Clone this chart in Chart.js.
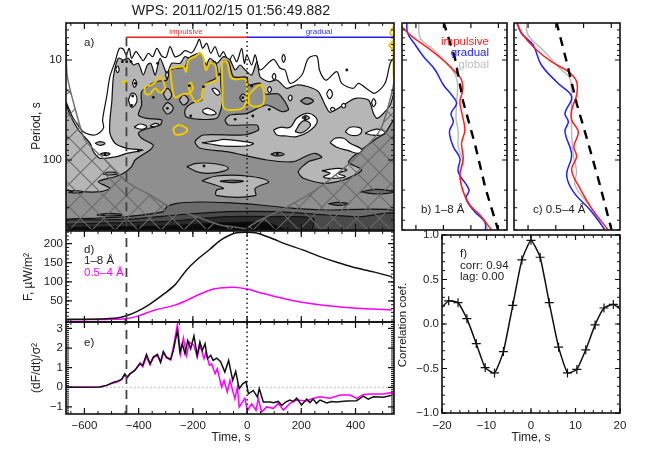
<!DOCTYPE html>
<html>
<head>
<meta charset="utf-8">
<title>WPS 2011/02/15</title>
<script src="https://cdn.jsdelivr.net/npm/chart.js@4"></script>
<style>
  html, body { margin: 0; padding: 0; background: #fff; }
  #wrap { position: relative; width: 658px; height: 461px; overflow: hidden; }
  #wrap canvas { position: absolute; left: 0; top: 0; }
</style>
</head>
<body>
<div id="wrap"></div>
<script>
// tick labels
var timeTicks = [-600, -400, -200, 0, 200, 400];
var periodTicks = [10, 100];
var fluxTicks = [50, 100, 150, 200];
var derivTicks = [-1, 0, 1, 2, 3];
var lagTicks = [-20, -10, 0, 10, 20];
var corrTicks = [-1, -0.5, 0, 0.5, 1];
var powerTicks = [-2, -1, 0, 1];
var periodMinor = [5, 6, 7, 8, 9, 20, 30, 40, 50, 60, 70, 80, 90, 200, 300, 400, 500];

// event times, s
var flareStart = -445;
var flarePeak = 0;

// wavelet contours: [time s, log10 period]
var contourOuter = [[-668,1.417],[-641,1.583],[-604,1.717],[-561,1.75],[-530,1.683],[-533,1.6],[-518,1.367],[-506,1.167],[-487,1.017],[-471,.883],[-456,.893],[-446,.95],[-435,.883],[-426,.983],[-410,.917],[-395,.967],[-383,1.007],[-364,.933],[-348,.967],[-333,.883],[-315,.96],[-299,.973],[-284,.867],[-266,.967],[-247,.95],[-229,.907],[-204,.927],[-186,.85],[-176,.793],[-164,.883],[-149,.833],[-134,.933],[-118,.867],[-102,.967],[-87,.917],[-69,1.017],[-53,.95],[-38,1.017],[-20,.883],[-10,1.033],[-1,.95],[17,1.05],[30,.95],[48,1.1],[97,.993],[122,1.083],[140,1.1],[159,1.233],[202,1.15],[226,.983],[257,.96],[267,1.1],[282,1.183],[294,1.2],[331,1.117],[349,1.233],[392,1.283],[411,1.233],[448,1.3],[472,1.333],[509,1.233],[528,1.033],[544,.967]];
var contourLight = [[-668,1.433],[-653,1.55],[-622,1.7],[-579,1.833],[-567,1.917],[-542,1.983],[-481,1.967],[-444,1.933],[-383,1.9],[-444,1.883],[-487,1.833],[-506,1.733],[-506,1.6],[-499,1.417],[-493,1.167],[-475,.983],[-456,1],[-438,.983],[-419,1.05],[-401,1.033],[-383,1.15],[-368,1.05],[-355,1.033],[-339,1.15],[-321,.983],[-296,1.133],[-278,1.033],[-247,1.033],[-229,.967],[-198,1],[-176,.933],[-155,1.067],[-137,.983],[-112,1.033],[-87,.967],[-63,1],[-44,1.1],[-26,1.05],[-7,1.1],[17,1.15],[36,1.017],[48,1.167],[79,1.217],[110,1.2],[146,1.283],[183,1.25],[226,1.267],[263,1.317],[288,1.45],[306,1.523],[356,1.45],[399,1.383],[448,1.4],[466,1.533],[479,1.583],[497,1.55],[528,1.45],[544,1.317],[544,2.75],[-668,2.75]];
var contourMid = [[-668,2.3],[-616,2.317],[-542,2.317],[-506,2.283],[-549,2.217],[-487,2.167],[-456,2.133],[-426,2.067],[-413,2],[-358,1.9],[-346,1.85],[-389,1.783],[-401,1.733],[-383,1.7],[-321,1.65],[-315,1.6],[-370,1.583],[-401,1.55],[-389,1.45],[-389,1.317],[-339,1.217],[-296,1.2],[-284,1.1],[-229,1.067],[-216,.983],[-173,.933],[-149,1.05],[-118,1.017],[-109,1.167],[-149,1.233],[-167,1.317],[-167,1.4],[-204,1.433],[-229,1.5],[-225,1.567],[-173,1.593],[-112,1.583],[-97,1.5],[-91,1.4],[-97,1.233],[-91,1.017],[-69,1.017],[-50,1.167],[-1,1.173],[5,1.25],[48,1.233],[66,1.34],[116,1.34],[153,1.493],[128,1.517],[73,1.45],[-1,1.533],[-63,1.55],[-81,1.6],[-69,1.65],[36,1.65],[42,1.7],[-13,1.75],[-161,1.75],[-192,1.817],[-173,1.883],[-75,1.917],[73,2],[171,2.017],[226,1.95],[251,1.933],[276,1.973],[226,2.017],[189,2.117],[208,2.183],[282,2.233],[356,2.2],[423,2.1],[374,2.017],[479,1.783],[509,1.733],[544,1.6],[544,2.75],[-668,2.75]];
var contourDark1 = [[-668,2.59],[-567,2.583],[-444,2.567],[-309,2.517],[-296,2.467],[-259,2.433],[-173,2.42],[-75,2.427],[48,2.45],[171,2.483],[294,2.5],[544,2.507],[544,2.75],[-668,2.75]];
var contourDark2 = [[-668,2.6],[-444,2.593],[-259,2.55],[-75,2.517],[110,2.517],[294,2.55],[417,2.567],[544,2.533],[544,2.75],[-668,2.75]];
var contourDark3 = [[-668,2.64],[-321,2.617],[-75,2.567],[110,2.567],[245,2.583],[226,2.75],[-668,2.75]];
var contourDark4 = [[-668,2.673],[-321,2.66],[-75,2.627],[73,2.627],[171,2.75],[-668,2.75]];

var lightIslands = [
  [[-309,1.34],[-294,1.283],[-278,1.35],[-294,1.4]],
  [[-250,1.4],[-235,1.35],[-216,1.4],[-235,1.45]],
  [[-312,1.483],[-294,1.427],[-272,1.483],[-294,1.54]],
  [[-223,2.067],[-186,2.033],[-112,2.04],[-69,2.083],[-112,2.127],[-173,2.127]],
  [[-167,2.207],[-112,2.16],[-1,2.16],[79,2.217],[30,2.283],[30,2.357],[-112,2.357],[-112,2.3],[-87,2.283]],
  [[-28,1.377],[-16,1.34],[-1,1.377],[-16,1.417]]
];
var midIslands = [
  [[87,1.943],[112,1.923],[137,1.943],[112,1.96]],
  [[196,1.41],[220,1.377],[245,1.41],[220,1.443]],
  [[-533,2.14],[-506,2.12],[-475,2.133],[-506,2.15]],
  [[-659,2.323],[-635,2.307],[-604,2.317],[-635,2.33]]
];
var darkIslands = [
  [[-100,2.213],[-57,2.2],[-13,2.213],[-57,2.227]],
  [[417,2.32],[479,2.293],[540,2.32],[479,2.34]],
  [[300,2.437],[337,2.423],[374,2.44],[337,2.453]],
  [[-555,2.55],[-506,2.533],[-462,2.55],[-506,2.56]]
];
var whiteIslands = [
  [[-167,1.827],[-112,1.807],[-87,1.793],[-38,1.807],[23,1.833],[-1,1.86],[-87,1.86],[-137,1.84]],
  [[97,1.7],[122,1.673],[159,1.673],[183,1.583],[220,1.533],[251,1.567],[257,1.633],[226,1.717],[183,1.767],[146,1.76],[110,1.75]],
  [[362,1.717],[380,1.673],[411,1.673],[423,1.7],[411,1.75],[380,1.75]],
  [[435,1.733],[472,1.693],[509,1.717],[497,1.75],[460,1.75]],
  [[306,1.827],[325,1.783],[356,1.783],[380,1.833],[423,1.893],[411,1.933],[374,1.907],[331,1.873]],
  [[276,2.107],[331,2.083],[368,2.1],[337,2.133],[362,2.167],[312,2.183],[282,2.167],[306,2.133]],
  [[-417,1.673],[-395,1.64],[-370,1.667],[-389,1.693]],
  [[-358,1.66],[-339,1.633],[-325,1.65],[-346,1.667]],
  [[-164,1.5],[-143,1.483],[-114,1.533],[-137,1.55],[-161,1.527]],
  [[-130,1.29],[-118,1.283],[-100,1.333],[-112,1.35]],
  [[-438,1.4],[-426,1.333],[-410,1.35],[-407,1.417],[-426,1.473]],
  [[-423,1.233],[-416,1.193],[-407,1.233],[-416,1.273]],
  [[-485,1.093],[-478,1.06],[-472,1.093],[-478,1.127]],
  [[-301,1.15],[-296,1.117],[-290,1.15],[-296,1.183]],
  [[128,.983],[134,.943],[141,.983],[134,1.023]],
  [[92,1.167],[100,1.133],[106,1.167],[100,1.2]],
  [[75,1.293],[82,1.267],[90,1.293],[82,1.327]],
  [[151,1.377],[159,1.35],[166,1.377],[159,1.41]],
  [[293,1.34],[304,1.293],[315,1.34],[304,1.387]],
  [[459,1.427],[466,1.387],[475,1.427],[466,1.467]],
  [[306,1.493],[315,1.473],[324,1.493],[315,1.513]],
  [[347,1.457],[356,1.433],[364,1.457],[356,1.48]]
];
var innerIslands = [
  [[177,1.717],[202,1.617],[226,1.617],[233,1.66],[202,1.727]],
  [[202,1.577],[217,1.557],[230,1.577],[217,1.597]],
  [[-561,1.833],[-542,1.817],[-524,1.833],[-542,1.853]],
  [[-542,1.94],[-524,1.927],[-506,1.94],[-524,1.957]]
];
var contourDots = [[-346,1.373],[-294,1.483],[-208,1.56],[-213,1.257],[-161,1.267],[-102,1.143],[17,1.26],[-16,1.377],[82,1.493],[21,1.56],[-44,1.593],[112,1.943],[-159,2.06],[-524,1.94],[-401,1.91],[368,1.1],[-460,1.017],[-444,1.017],[-428,1.017],[-330,1.033],[-422,1.36],[-426,1.453],[-413,1.233],[214,1.577]];

// significance contours (yellow)
var signifLoops = [
  [[-380,1.3],[-373,1.26],[-352,1.25],[-333,1.2],[-321,1.167],[-306,1.233],[-303,1.283],[-321,1.327],[-339,1.283],[-358,1.34],[-373,1.34]],
  [[-284,1.083],[-235,1.067],[-225,1.117],[-216,1],[-192,.967],[-173,.933],[-161,.983],[-152,1.1],[-137,1.033],[-118,1.05],[-112,1.15],[-112,1.2],[-155,1.25],[-167,1.333],[-167,1.383],[-192,1.417],[-210,1.34],[-235,1.34],[-266,1.373],[-278,1.233]],
  [[-93,1.017],[-75,1.017],[-57,1.183],[-7,1.193],[-1,1.3],[-13,1.473],[-63,1.5],[-87,1.473],[-91,1.267]],
  [[5,1.35],[36,1.267],[52,1.25],[63,1.4],[48,1.46],[11,1.45]],
  [[-272,1.683],[-253,1.65],[-223,1.683],[-223,1.717],[-253,1.75],[-268,1.733]],
  [[-216,1.25],[-208,1.227],[-200,1.283],[-210,1.323]]
];
var signifEdge = [[540,.667],[528,.733],[546,.783],[525,.85],[540,.89],[552,.85],[540,.817],[540,.95],[541,1.15],[546,1.333]];
var signifDot = [[-453,1.223]];

// cone of influence
var coiLeft = [[-668,.8],[-664,1.15],[-635,1.48],[-598,1.8],[-531,1.98],[-443,2.22],[-358,2.35],[-284,2.47],[-173,2.58],[-100,2.65],[-7,2.69],[-7,2.75],[-668,2.75]];
var coiRight = [[-7,2.69],[48,2.6],[148,2.47],[269,2.27],[391,2],[491,1.7],[539,1.27],[544,1.1],[544,2.75],[-7,2.75]];

// power spectra: [log10 power, log10 period]
var specRed18 = [[-2.51,.667],[-2.14,.767],[-1.54,.883],[-.94,1.017],[-.52,1.133],[-.34,1.2],[-.3,1.3],[-.4,1.417],[-.34,1.517],[-.22,1.7],[-.34,1.833],[-.28,1.983],[-.4,2.15],[-.28,2.317],[-.04,2.45],[.33,2.55],[.75,2.7]];
var specBlue18 = [[-2.33,.617],[-2.3,.733],[-2.02,.85],[-1.72,.967],[-1.3,1.1],[-1,1.25],[-.7,1.35],[-.52,1.433],[-.72,1.533],[-.64,1.617],[-.78,1.717],[-.64,1.867],[-.4,1.983],[-.46,2.117],[-.07,2.3],[-.18,2.383],[.14,2.517],[.51,2.617],[.53,2.7]];
var specGrey18 = [[-1.9,.633],[-1.84,.783],[-1.42,.883],[-.94,1.017],[-.52,1.183],[-.52,1.433],[-.54,1.583],[-.46,1.717],[-.46,1.867],[-.28,2.017],[-.4,2.15],[-.28,2.317],[.02,2.483],[.39,2.583],[.63,2.7]];
var specNoise18 = [[-1,.617],[-.58,.983],[-.28,1.417],[.14,1.833],[.53,2.283],[.99,2.7]];
var specRed054 = [[-2.4,.633],[-2.18,.75],[-1.76,.883],[-1.16,1.017],[-.55,1.117],[-.25,1.217],[-.25,1.35],[-.43,1.5],[-.43,1.6],[-.19,1.717],[-.35,1.867],[-.25,1.967],[-.43,2.1],[-.13,2.283],[.29,2.483],[.89,2.7]];
var specBlue054 = [[-2.42,.617],[-2.24,.733],[-1.82,.85],[-1.52,1.05],[-.92,1.233],[-.43,1.367],[-.67,1.533],[-.55,1.617],[-.67,1.717],[-.43,1.95],[-.61,2.15],[-.37,2.317],[.29,2.517],[.77,2.7]];
var specGrey054 = [[-2.06,.617],[-2,.75],[-1.4,.917],[-.8,1.1],[-.49,1.183],[-.43,1.45],[-.43,1.717],[-.37,1.95],[-.25,2.117],[-.31,2.25],[.29,2.483],[.77,2.7]];
var specNoise054 = [[-.98,.617],[-.61,1.017],[-.25,1.433],[.17,1.833],[.59,2.25],[1.01,2.7]];

// light curves: [time s, flux]
var flux18 = [[-668,2],[-592,2],[-518,3.5],[-481,5],[-448,10.5],[-407,22],[-364,39],[-309,67],[-266,92],[-223,131],[-186,157],[-136,186],[-100,208],[-63,222.5],[-38,228.6],[-1,230],[35,228],[85,215.5],[146,198],[208,183],[269,166],[331,151],[392,138],[466,126],[534,113.5]];
var flux054 = [[-668,1],[-592,1],[-518,1.5],[-448,3.5],[-407,9.6],[-346,25],[-266,39],[-223,51.5],[-173,68],[-124,81],[-87,84.6],[-50,85.5],[-1,81],[48,71.6],[110,60],[171,50.6],[245,42],[318,35.8],[392,31.4],[466,28.8],[534,26]];

// normalised derivative: [time s, value]
var deriv18 = [[-668,0],[-543,.02],[-518,.1],[-494,.25],[-475,.33],[-463,.4],[-451,.69],[-442,.52],[-432,.69],[-414,.86],[-395,1.2],[-385,1.12],[-371,1.68],[-358,1.2],[-346,1.54],[-331,1.68],[-319,1.29],[-309,1.83],[-297,1.54],[-282,1.42],[-272,1.88],[-257,2.9],[-248,1.8],[-239,2.22],[-229,1.71],[-219,2.39],[-208,1.97],[-196,2.62],[-184,1.63],[-174,2.31],[-165,1.88],[-155,2.22],[-146,1.46],[-134,1.63],[-125,1.37],[-112,1.49],[-98,1.32],[-82,.78],[-68,1.37],[-53,.35],[-42,.81],[-29,-.07],[-16,.18],[-4,.3],[5,-.33],[23,-.16],[38,-.5],[45,-.07],[60,-.75],[85,-.75],[97,-.78],[115,-.72],[128,-.92],[142,-.75],[158,-.65],[170,-.72],[183,-.55],[201,-.9],[220,-.6],[232,-.78],[244,-.6],[256,-.82],[269,-.65],[294,-.8],[312,-.72],[330,-.75],[367,-.7],[404,-.68],[429,-.45],[447,-.6],[466,-.48],[503,-.5],[534,-.4]];
var deriv054 = [[-668,0],[-543,.02],[-518,.1],[-494,.22],[-475,.3],[-463,.4],[-451,.62],[-442,.5],[-432,.68],[-414,.88],[-395,1.25],[-385,1.05],[-371,1.55],[-358,1.15],[-346,1.5],[-331,1.65],[-319,1.25],[-309,1.75],[-297,1.5],[-282,1.4],[-272,2.05],[-257,3.2],[-245,1.71],[-235,2.51],[-223,1.63],[-213,2.31],[-196,2.14],[-184,1.54],[-174,2.14],[-159,1.46],[-152,1.8],[-139,1.12],[-131,1.2],[-118,.69],[-110,.95],[-94,.01],[-85,.35],[-73,-.24],[-63,.35],[-45,-.58],[-36,.01],[-29,-1],[-8,-.55],[1,-1.18],[17,-.84],[33,-1.18],[41,-.58],[54,-1.26],[72,-1],[97,-1.07],[115,-.82],[134,-1.16],[158,-.82],[183,-.65],[220,-.7],[244,-.56],[269,-.48],[306,-.56],[343,-.39],[380,-.39],[404,-.56],[429,-.36],[466,-.34],[503,-.34],[534,-.26],[543,-.44]];

// cross correlation
var lags = [-20,-18.5,-16.4,-14.4,-12.3,-10.3,-8.2,-6.2,-4.1,-2.05,0,2.05,4.1,6.2,8.2,10.3,12.3,14.4,16.4,18.5,20];
var corr = [.19,.26,.24,.06,-.22,-.49,-.55,-.31,.21,.72,.94,.75,.24,-.26,-.55,-.51,-.29,-.01,.18,.22,.17];

var FONT = "'Liberation Sans', Arial, sans-serif";
var INK = '#222';
var W = 658, H = 461;
var AXIS_W = 40, AXIS_H = 28;

function logPts(arr) {
  return arr.map(function(p) { return {x: p[0], y: Math.pow(10, p[1])}; });
}
function xyPts(arr) {
  return arr.map(function(p) { return {x: p[0], y: p[1]}; });
}
function closed(arr) {
  return arr.concat([arr[0]]);
}
function shape(arr, fillColor, tension) {
  return {
    data: logPts(closed(arr)), showLine: true, fill: 'shape',
    backgroundColor: fillColor, borderColor: '#111', borderWidth: 1.2,
    pointRadius: 0, tension: tension
  };
}
function line(data, color, width, dash, tension) {
  return {
    data: data, showLine: true, fill: false,
    borderColor: color, borderWidth: width, borderDash: dash || [],
    pointRadius: 0, tension: tension || 0
  };
}

function hatchPattern() {
  var c = document.createElement('canvas');
  c.width = 23; c.height = 23;
  var g = c.getContext('2d');
  g.strokeStyle = 'rgba(105,105,105,.95)';
  g.lineWidth = 1.2;
  g.beginPath();
  g.moveTo(0, 0); g.lineTo(23, 23);
  g.moveTo(23, 0); g.lineTo(0, 23);
  g.stroke();
  return g.createPattern(c, 'repeat');
}

// IDL style frame: ticks point inwards on all four sides
function framePlugin(cfg) {
  return {
    id: 'frame',
    afterDatasetsDraw: function(chart) {
      var a = chart.chartArea, ctx = chart.ctx, sx = chart.scales.x, sy = chart.scales.y;
      ctx.save();
      ctx.strokeStyle = '#111';
      function ticksX(list, len) {
        list.forEach(function(v) {
          var p = sx.getPixelForValue(v);
          ctx.beginPath();
          ctx.moveTo(p, a.top); ctx.lineTo(p, a.top + len);
          ctx.moveTo(p, a.bottom); ctx.lineTo(p, a.bottom - len);
          ctx.stroke();
        });
      }
      function ticksY(list, len) {
        list.forEach(function(v) {
          var p = sy.getPixelForValue(v);
          ctx.beginPath();
          ctx.moveTo(a.left, p); ctx.lineTo(a.left + len, p);
          ctx.moveTo(a.right, p); ctx.lineTo(a.right - len, p);
          ctx.stroke();
        });
      }
      ctx.lineWidth = 1;
      ticksX(cfg.xMinor || [], 3);
      ticksY(cfg.yMinor || [], 3);
      ctx.lineWidth = 1.2;
      ticksX(cfg.xMajor, cfg.majorLen || 6);
      ticksY(cfg.yMajor, cfg.majorLen || 6);
      ctx.lineWidth = 1.6;
      ctx.strokeRect(a.left, a.top, a.right - a.left, a.bottom - a.top);
      ctx.restore();
    }
  };
}

function notesPlugin(notes) {
  return {
    id: 'notes',
    afterDraw: function(chart) {
      var ctx = chart.ctx;
      notes.forEach(function(n) {
        ctx.save();
        ctx.font = (n.size || 11.5) + 'px ' + FONT;
        ctx.fillStyle = n.color || INK;
        ctx.textAlign = n.align || 'left';
        ctx.textBaseline = 'middle';
        ctx.translate(n.x, n.y);
        if (n.rot) ctx.rotate(n.rot);
        ctx.fillText(n.text, 0, 0);
        ctx.restore();
      });
    }
  };
}

function axis(min, max, type, ticks, showLabels, size, fmt, pad, reverse) {
  return {
    type: type, min: min, max: max, reverse: !!reverse,
    grid: {display: false, drawTicks: false},
    border: {display: false},
    // fixed box so the plot area stays where the layout padding puts it
    afterFit: function(s) { if (size === 'w') { s.width = AXIS_W; } else { s.height = AXIS_H; } },
    afterBuildTicks: function(s) { s.ticks = ticks.map(function(v) { return {value: v}; }); },
    ticks: {
      display: showLabels, autoSkip: false, maxRotation: 0, minRotation: 0,
      padding: pad, color: INK, font: {family: FONT, size: 11.5},
      callback: fmt || function(v) { return String(v).replace('-', '\u2212'); }
    }
  };
}

function panel(box, xAxis, yAxis, datasets, frame, notes) {
  var cv = document.createElement('canvas');
  cv.width = W; cv.height = H;
  cv.style.width = W + 'px'; cv.style.height = H + 'px';
  document.getElementById('wrap').appendChild(cv);
  return new Chart(cv, {
    type: 'scatter',
    // first dataset is painted last, so reverse the painting order
    data: {datasets: datasets.slice().reverse()},
    options: {
      responsive: false, animation: false, events: [],
      layout: {padding: {left: box.l - AXIS_W, top: box.t, right: W - box.r, bottom: H - box.b - AXIS_H}},
      plugins: {legend: {display: false}, tooltip: {enabled: false}},
      scales: {x: xAxis, y: yAxis}
    },
    plugins: [framePlugin(frame), notesPlugin(notes || [])]
  });
}

function range(a, b, step) {
  var out = [];
  for (var v = a; v <= b + 1e-9; v += step) out.push(Math.round(v * 100) / 100);
  return out;
}

var T_MIN = -668, T_MAX = 542;
var P_MIN = Math.pow(10, 0.63), P_MAX = Math.pow(10, 2.7);
var timeMinor = range(-650, 500, 50);

// a) wavelet panel
var hatch = hatchPattern();
var waveSets = [];
waveSets.push(line(logPts(contourOuter), '#111', 1.2, null, 0.3));
waveSets.push(shape(contourLight, '#b6b6b6', 0.25));
waveSets.push(shape(contourMid, '#8f8f8f', 0.25));
lightIslands.forEach(function(p) { waveSets.push(shape(p, '#b6b6b6', 0.4)); });
midIslands.forEach(function(p) { waveSets.push(shape(p, '#8f8f8f', 0.4)); });
waveSets.push(shape(contourDark1, '#6b6b6b', 0.2));
darkIslands.forEach(function(p) { waveSets.push(shape(p, '#6b6b6b', 0.4)); });
waveSets.push(shape(contourDark2, '#4a4a4a', 0.2));
waveSets.push(shape(contourDark3, '#2a2a2a', 0.2));
waveSets.push(shape(contourDark4, '#080808', 0.2));
whiteIslands.forEach(function(p) { waveSets.push(shape(p, '#ffffff', 0.4)); });
innerIslands.forEach(function(p) { waveSets.push(shape(p, '#b6b6b6', 0.4)); });
[coiLeft, coiRight].forEach(function(p) {
  var d = shape(p, hatch, 0.2);
  d.borderColor = 'rgba(105,105,105,.95)';
  d.borderWidth = 1.5;
  waveSets.push(d);
});
signifLoops.forEach(function(p) {
  waveSets.push(line(logPts(closed(p)), '#eec900', 2, null, 0.35));
});
waveSets.push(line(logPts(signifEdge), '#eec900', 2, null, 0.35));
waveSets.push({data: logPts(signifDot), pointRadius: 2.2, pointBackgroundColor: '#eec900', pointBorderWidth: 0});
waveSets.push({data: logPts(contourDots), pointRadius: 1.4, pointBackgroundColor: '#111', pointBorderWidth: 0});
waveSets.push(line(logPts([[flareStart, .773], [flareStart, 2.7]]), '#444', 1.8, [9, 6]));
waveSets.push(line(logPts([[flarePeak, .63], [flarePeak, 2.7]]), '#111', 1.4, [1.5, 3]));
waveSets.push(line(logPts([[flareStart, .773], [flarePeak, .773]]), '#ee2020', 1.5));
waveSets.push(line(logPts([[flarePeak, .773], [T_MAX, .773]]), '#2020ee', 1.5));

panel({l: 66, t: 23, r: 394, b: 230},
  axis(T_MIN, T_MAX, 'linear', timeTicks, false, 'h'),
  axis(P_MIN, P_MAX, 'logarithmic', periodTicks, true, 'w', null, 4, true),
  waveSets,
  {xMajor: timeTicks, xMinor: timeMinor, yMajor: periodTicks, yMinor: periodMinor},
  [
    {text: 'WPS: 2011/02/15 01:56:49.882', x: 231, y: 11, align: 'center', size: 14.3},
    {text: 'a)', x: 84, y: 43},
    {text: 'impulsive', x: 186, y: 32, align: 'center', color: '#ee3030', size: 8},
    {text: 'gradual', x: 319, y: 32, align: 'center', color: '#3030ee', size: 8},
    {text: 'Period, s', x: 37, y: 126, align: 'center', rot: -Math.PI / 2, size: 12}
  ]);

// b), c) spectra
var POW_MIN = -2.506, POW_MAX = 1.313;
function spectrum(box, red, blue, grey, noise, notes) {
  panel(box,
    axis(POW_MIN, POW_MAX, 'linear', powerTicks, false, 'h'),
    axis(P_MIN, P_MAX, 'logarithmic', periodTicks, false, 'w', null, 0, true),
    [
      line(logPts(grey), '#bdbdbd', 1.5, null, 0.4),
      line(logPts(blue), '#2020ff', 1.5, null, 0.4),
      line(logPts(red), '#ff2020', 1.5, null, 0.4),
      line(logPts(noise), '#000', 2.4, [9, 7])
    ],
    {xMajor: powerTicks, yMajor: periodTicks, yMinor: periodMinor, majorLen: 5},
    notes);
}
spectrum({l: 402, t: 23, r: 507, b: 230}, specRed18, specBlue18, specGrey18, specNoise18, [
  {text: 'impulsive', x: 489, y: 42, align: 'right', color: '#ff2020'},
  {text: 'gradual', x: 489, y: 53, align: 'right', color: '#2020ff'},
  {text: 'global', x: 489, y: 65, align: 'right', color: '#bdbdbd'},
  {text: 'b) 1\u20138 \u00c5', x: 421, y: 210}
]);
spectrum({l: 514, t: 23, r: 620, b: 230}, specRed054, specBlue054, specGrey054, specNoise054, [
  {text: 'c) 0.5\u20134 \u00c5', x: 533, y: 210}
]);

// d) light curves
panel({l: 66, t: 231, r: 394, b: 322},
  axis(T_MIN, T_MAX, 'linear', timeTicks, false, 'h'),
  axis(-5.2, 233, 'linear', fluxTicks, true, 'w', null, 3),
  [
    line(xyPts(flux054), '#ff00ff', 1.5, null, 0.3),
    line(xyPts(flux18), '#111', 1.5, null, 0.3),
    line(xyPts([[flareStart, -5.2], [flareStart, 233]]), '#444', 1.8, [9, 6]),
    line(xyPts([[flarePeak, -5.2], [flarePeak, 233]]), '#111', 1.4, [1.5, 3])
  ],
  {xMajor: timeTicks, xMinor: timeMinor, yMajor: fluxTicks, yMinor: range(0, 230, 10)},
  [
    {text: 'd)', x: 84, y: 250},
    {text: '1\u20138 \u00c5', x: 84, y: 261},
    {text: '0.5\u20134 \u00c5', x: 84, y: 273, color: '#ff00ff'},
    {text: 'F, \u00b5W/m\u00b2', x: 29, y: 277, align: 'center', rot: -Math.PI / 2, size: 12}
  ]);

// e) derivative
panel({l: 66, t: 322, r: 394, b: 414},
  axis(T_MIN, T_MAX, 'linear', timeTicks, true, 'h', null, 5),
  axis(-1.36, 3.33, 'linear', derivTicks, true, 'w', null, 3),
  [
    line(xyPts([[T_MIN, 0], [T_MAX, 0]]), '#aaa', 1, [1.5, 2.5]),
    line(xyPts(deriv054), '#ff00ff', 1.5),
    line(xyPts(deriv18), '#111', 1.5),
    line(xyPts([[flareStart, -1.36], [flareStart, 3.33]]), '#444', 1.8, [9, 6]),
    line(xyPts([[flarePeak, -1.36], [flarePeak, 3.33]]), '#111', 1.4, [1.5, 3])
  ],
  {xMajor: timeTicks, xMinor: timeMinor, yMajor: derivTicks, yMinor: range(-1.3, 3.3, 0.1)},
  [
    {text: 'e)', x: 84, y: 343},
    {text: '(dF/dt)/\u03c3\u00b2', x: 37, y: 368, align: 'center', rot: -Math.PI / 2, size: 12},
    {text: 'Time, s', x: 231, y: 438, align: 'center', size: 12}
  ]);

// f) cross correlation
var corrPts = lags.map(function(v, i) { return {x: v, y: corr[i]}; });
var corrSet = line(corrPts, '#111', 1.5, null, 0.15);
corrSet.pointStyle = 'cross';
corrSet.pointRadius = lags.map(function(v, i) { return i === 0 || i === lags.length - 1 ? 0 : 4.5; });
corrSet.pointBorderColor = '#111';
corrSet.pointBorderWidth = 1.2;
panel({l: 442, t: 235, r: 620, b: 413},
  axis(-20, 20, 'linear', lagTicks, true, 'h', null, 6),
  axis(-1, 1, 'linear', corrTicks, true, 'w', function(v) { return v.toFixed(1).replace('-', '\u2212'); }, 3),
  [corrSet],
  {xMajor: lagTicks, xMinor: range(-20, 20, 2), yMajor: corrTicks, yMinor: range(-1, 1, 0.1), majorLen: 5},
  [
    {text: 'f)', x: 460, y: 254},
    {text: 'corr: 0.94', x: 460, y: 266},
    {text: 'lag: 0.00', x: 460, y: 277},
    {text: 'Correlation coef.', x: 403, y: 325, align: 'center', rot: -Math.PI / 2},
    {text: 'Time, s', x: 531, y: 438, align: 'center', size: 12}
  ]);
</script>
</body>
</html>
